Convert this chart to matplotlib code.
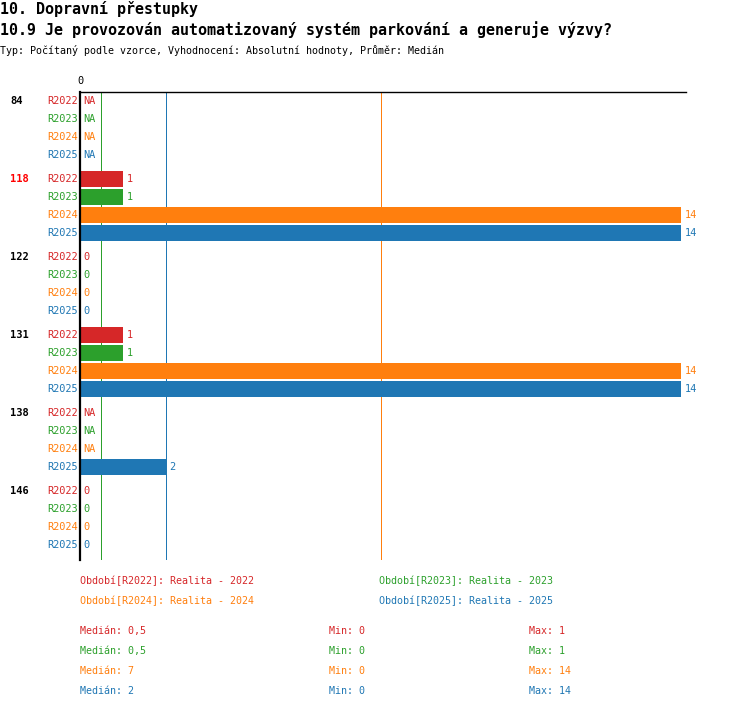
import matplotlib
matplotlib.use('Agg')
import matplotlib.pyplot as plt
import matplotlib.transforms as mtransforms

# data
groups = ['84', '118', '122', '131', '138', '146']
highlight = '118'
periods = ['R2022', 'R2023', 'R2024', 'R2025']
values_r2022 = [None, 1, 0, 1, None, 0]
values_r2023 = [None, 1, 0, 1, None, 0]
values_r2024 = [None, 14, 0, 14, None, 0]
values_r2025 = [None, 14, 0, 14, 2, 0]
legend_labels = ['Období[R2022]: Realita - 2022', 'Období[R2023]: Realita - 2023',
                 'Období[R2024]: Realita - 2024', 'Období[R2025]: Realita - 2025']
median_vals = [0.5, 0.5, 7, 2]
median_txt = ['0,5', '0,5', '7', '2']
min_vals = [0, 0, 0, 0]
max_vals = [1, 1, 14, 14]

colors = ['#d62728', '#2ca02c', '#ff7f0e', '#1f77b4']
series = [values_r2022, values_r2023, values_r2024, values_r2025]

FONT = 'DejaVu Sans Mono'
W, H = 750, 710
fig = plt.figure(figsize=(W / 100, H / 100), dpi=100)

# axes region in pixels: x 80..686, y 92..560
ax = fig.add_axes([80 / W, 1 - 560 / H, 606 / W, 468 / H])
xmax = 14 * 606 / 601
ax.set_xlim(0, xmax)
ax.set_ylim(468, 0)
ax.axis('off')

row_step, group_step, top_pad = 18, 78, 9
lbl_tf = mtransforms.blended_transform_factory(fig.transFigure, ax.transData)

for g, grp in enumerate(groups):
    y0 = top_pad + g * group_step
    ax.text(10 / W, y0, grp, transform=lbl_tf, ha='left', va='center',
            fontsize=7.5, fontweight='bold', family=FONT,
            color='#ff0000' if grp == highlight else 'black')
    for r, (per, vals, c) in enumerate(zip(periods, series, colors)):
        y = y0 + r * row_step
        ax.annotate(per, xy=(0, y), xytext=(-1.5, 0), textcoords='offset points',
                    ha='right', va='center', fontsize=7.4, family=FONT, color=c)
        v = vals[g]
        if v is None:
            ax.annotate('NA', xy=(0, y), xytext=(2.5, 0), textcoords='offset points',
                        ha='left', va='center', fontsize=7.4, family=FONT, color=c)
            continue
        if v > 0:
            ax.barh(y, v, height=16, color=c, zorder=2)
        ax.annotate(str(v), xy=(v, y), xytext=(2.5, 0), textcoords='offset points',
                    ha='left', va='center', fontsize=7.4, family=FONT, color=c)

# median lines (thin, 1 px)
for m, c in zip(median_vals, colors):
    ax.plot([m, m], [0, 468], color=c, lw=0.4, zorder=1, antialiased=False)

# axis lines
ax.plot([0, 0], [0, 468], color='black', lw=1.6, zorder=3, clip_on=False)
ax.plot([0, xmax], [0, 0], color='black', lw=1.0, zorder=3, clip_on=False)
ax.text(0, -11, '0', ha='center', va='center', fontsize=7.4, family=FONT)

# titles
fig.text(0, 1 - 9 / H, '10. Dopravní přestupky', ha='left', va='center',
         fontsize=10.8, fontweight='bold', family=FONT)
fig.text(0, 1 - 30 / H, '10.9 Je provozován automatizovaný systém parkování a generuje výzvy?',
         ha='left', va='center', fontsize=10.8, fontweight='bold', family=FONT)
fig.text(0, 1 - 50 / H, 'Typ: Počítaný podle vzorce, Vyhodnocení: Absolutní hodnoty, Průměr: Medián',
         ha='left', va='center', fontsize=7.2, family=FONT)

# legend
leg_x = [80, 379, 80, 379]
leg_y = [581, 581, 601, 601]
for txt, c, x, y in zip(legend_labels, colors, leg_x, leg_y):
    fig.text(x / W, 1 - y / H, txt, ha='left', va='center', fontsize=7.2, family=FONT, color=c)

# stats
for i, c in enumerate(colors):
    y = 1 - (631 + i * 20) / H
    fig.text(80 / W, y, 'Medián: ' + median_txt[i], ha='left', va='center', fontsize=7.2, family=FONT, color=c)
    fig.text(329 / W, y, 'Min: %d' % min_vals[i], ha='left', va='center', fontsize=7.2, family=FONT, color=c)
    fig.text(529 / W, y, 'Max: %d' % max_vals[i], ha='left', va='center', fontsize=7.2, family=FONT, color=c)

fig.savefig('out.png', dpi=100)
